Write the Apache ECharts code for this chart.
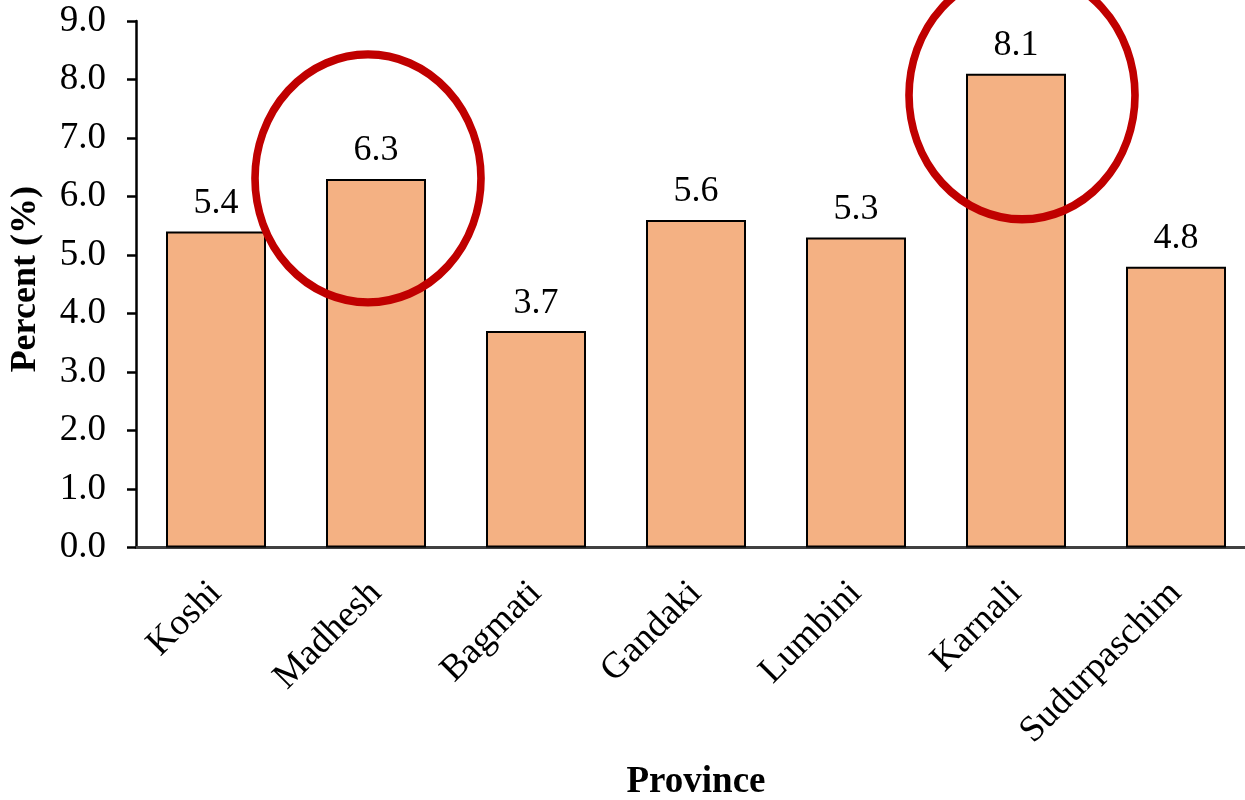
<!DOCTYPE html>
<html>
<head>
<meta charset="utf-8">
<script src="https://cdn.jsdelivr.net/npm/echarts@6/dist/echarts.min.js"></script>
<style>
html,body{margin:0;padding:0;background:#fff;overflow:hidden;}
#chart{width:1245px;height:800px;}
</style>
</head>
<body>
<div id="chart"></div>
<script>
// ---- data ----
const provinces = ['Koshi', 'Madhesh', 'Bagmati', 'Gandaki', 'Lumbini', 'Karnali', 'Sudurpaschim'];
const percentValues = [5.4, 6.3, 3.7, 5.6, 5.3, 8.1, 4.8];
const yTickValues = [0, 1, 2, 3, 4, 5, 6, 7, 8, 9];
const highlightProvinces = ['Madhesh', 'Karnali'];
const highlightCenters = [6.31, 7.73];
const highlightOffsets = [-8, 6];

const FONT = "'Liberation Serif', 'Times New Roman', serif";

const chart = echarts.init(document.getElementById('chart'));
chart.setOption({
  animation: false,
  backgroundColor: '#ffffff',
  grid: { left: 136, top: 21, width: 1120, height: 526.5, containLabel: false, outerBoundsMode: 'none' },
  xAxis: {
    type: 'category',
    data: provinces,
    name: 'Province',
    nameLocation: 'middle',
    nameGap: 216,
    nameTextStyle: { fontFamily: FONT, fontSize: 37, fontWeight: 'bold', color: '#000' },
    axisLine: { lineStyle: { color: '#404040', width: 3 } },
    axisTick: { show: false },
    axisLabel: { rotate: 45, margin: 40, fontFamily: FONT, fontSize: 37, color: '#000', interval: 0 }
  },
  yAxis: {
    type: 'value',
    min: yTickValues[0],
    max: yTickValues[yTickValues.length - 1],
    interval: 1,
    name: 'Percent (%)',
    nameLocation: 'middle',
    nameGap: 92,
    nameTextStyle: { fontFamily: FONT, fontSize: 36, fontWeight: 'bold', color: '#000', padding: [0, 0, 0, 10] },
    axisLine: { show: true, lineStyle: { color: '#000', width: 2.5 } },
    axisTick: { show: true, inside: false, length: 9, lineStyle: { color: '#000', width: 2.5 } },
    splitLine: { show: false },
    axisLabel: { margin: 30, fontFamily: FONT, fontSize: 37, color: '#000', formatter: v => v.toFixed(1) }
  },
  series: [{
    type: 'bar',
    data: percentValues,
    barWidth: 100,
    itemStyle: { color: '#F4B183', borderColor: '#000', borderWidth: 2 },
    label: {
      show: true, position: 'top', distance: 10,
      fontFamily: FONT, fontSize: 36, color: '#000',
      formatter: p => p.value.toFixed(1)
    },
    markPoint: {
      symbol: 'circle',
      symbolSize: [226, 248],
      silent: true,
      label: { show: false },
      itemStyle: { color: 'rgba(0,0,0,0)', borderColor: '#C00000', borderWidth: 8 },
      data: highlightProvinces.map((name, i) => ({
        coord: [name, highlightCenters[i]],
        symbolOffset: [highlightOffsets[i], 0]
      }))
    }
  }]
});
</script>
</body>
</html>
